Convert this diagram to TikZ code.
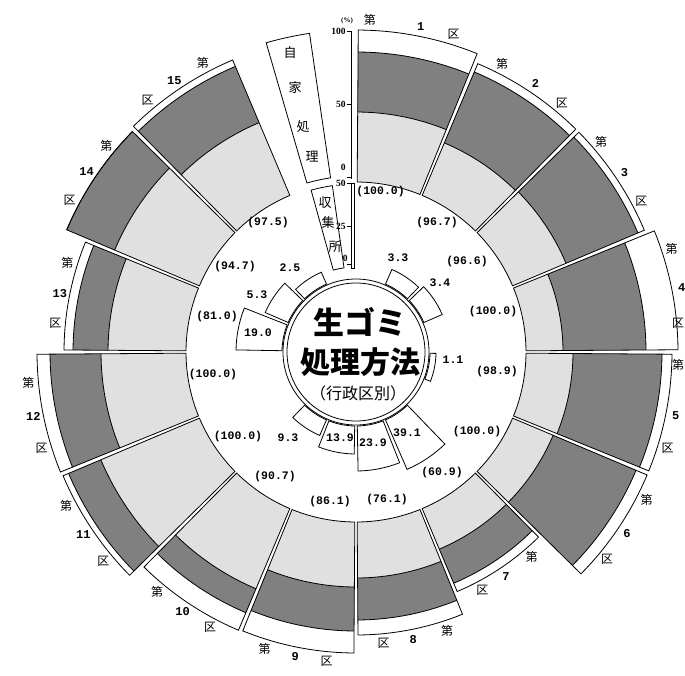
\documentclass[tikz,border=0pt]{standalone}
\usepackage{fontspec}
\setmainfont{Liberation Serif}
\setmonofont{Liberation Mono}
\newfontfamily\jp{Noto Sans CJK JP}
\begin{document}
\begin{tikzpicture}[x=1pt,y=1pt,line width=0.8pt,
  num/.style={font=\ttfamily\bfseries\fontsize{11.5}{12}\selectfont,inner sep=0pt},
  wnum/.style={font=\ttfamily\bfseries\fontsize{12}{13}\selectfont,inner sep=0pt},
  jpl/.style={font=\jp\fontsize{12}{13}\selectfont,inner sep=0pt},
  leg/.style={font=\jp\fontsize{13}{14}\selectfont,inner sep=0pt},
  tick/.style={font=\rmfamily\bfseries\fontsize{9.5}{10}\selectfont,inner sep=0pt},
  lt/.style={fill=black!12},
  dk/.style={fill=black!50},
  ]
\useasboundingbox (0,0) rectangle (685,-675);
\fill[white] (0,0) rectangle (685,-675);
\begin{scope}[shift={(356,-352)}]
\coordinate (C) at (0,0);
% ward sectors
\foreach \k/\ra/\rb/\rc in {1/240/300/322,2/227/304/313,3/228/306/313,4/207/290/322,5/217/306/316,6/214/304/316,7/214/251/260,8/226/268/283,9/235/279/301,10/257/283/302,11/277/312/318,12/255/306/319,13/248/283/292,14/262/314/314,15/249/310/317}{
  \pgfmathsetmacro\sA{90-(\k-1)*22.5-0.4}
  \pgfmathsetmacro\sB{90-\k*22.5+0.4}
  \fill[white] (\sA:170) arc[start angle=\sA,end angle=\sB,radius=170pt] -- (\sB:\rc) arc[start angle=\sB,end angle=\sA,radius=\rc pt] -- cycle;
  \fill[lt] (\sA:170) arc[start angle=\sA,end angle=\sB,radius=170pt] -- (\sB:\ra) arc[start angle=\sB,end angle=\sA,radius=\ra pt] -- cycle;
  \fill[dk] (\sA:\ra) arc[start angle=\sA,end angle=\sB,radius=\ra pt] -- (\sB:\rb) arc[start angle=\sB,end angle=\sA,radius=\rb pt] -- cycle;
  \draw (\sA:170) arc[start angle=\sA,end angle=\sB,radius=170pt] -- (\sB:\rc) arc[start angle=\sB,end angle=\sA,radius=\rc pt] -- cycle;
  \draw (\sA:\ra) arc[start angle=\sA,end angle=\sB,radius=\ra pt];
  \draw (\sA:\rb) arc[start angle=\sA,end angle=\sB,radius=\rb pt];
  \pgfmathsetmacro\lr{\rc+10}
  \pgfmathsetmacro\ma{(\sA+\sB)/2}
  \ifnum\k<9
    \pgfmathsetmacro\fa{\sA-4}\pgfmathsetmacro\la{\sB+5}
  \else
    \pgfmathsetmacro\fa{\sB+5}\pgfmathsetmacro\la{\sA-5}
  \fi
  \ifnum\k=1 \pgfmathsetmacro\fa{\sA-2}\fi
  \ifnum\k=4
    \node[jpl] (d\k) at (\fa:\lr) {第};
    \node[wnum] (n\k) at (\ma:\lr) {\k};
    \node[jpl] (q\k) at (322,29) {区};
  \else\ifnum\k=5
    \node[jpl] (d\k) at (322,-13) {第};
    \node[wnum] (n\k) at (\ma:\lr) {\k};
    \node[jpl] (q\k) at (\la:\lr) {区};
  \else
    \node[jpl] (d\k) at (\fa:\lr) {第};
    \node[wnum] (n\k) at (\ma:\lr) {\k};
    \node[jpl] (q\k) at (\la:\lr) {区};
  \fi\fi
}
% inner bars
\foreach \k/\rr in {2/90,3/94,5/80,7/128,8/119,9/102,10/91,13/120,14/99,15/87}{
  \pgfmathsetmacro\sA{90-(\k-1)*22.5-1}
  \pgfmathsetmacro\sB{90-\k*22.5+1}
  \draw[fill=white] (\sA:74) arc[start angle=\sA,end angle=\sB,radius=74pt] -- (\sB:\rr) arc[start angle=\sB,end angle=\sA,radius=\rr pt] -- cycle;
}
% centre circles
\draw (C) circle[radius=69pt];
\draw (C) circle[radius=73pt];
\node[font=\jp\bfseries\fontsize{31}{31}\selectfont,inner sep=0pt] (t1) at (4,30) {生ゴミ};
\node[font=\jp\bfseries\fontsize{30}{30}\selectfont,inner sep=0pt] (t2) at (4,-10) {処理方法};
\node[font=\jp\fontsize{16}{16}\selectfont,inner sep=0pt] (t3) at (2,-41) {（行政区別）};
% legend boxes
\draw[fill=white] (106.2:176) arc[start angle=106.2,end angle=98.3,radius=176pt] -- (98.3:322) arc[start angle=98.3,end angle=106.2,radius=322pt] -- cycle;
\draw[fill=white] (105.5:85) arc[start angle=105.5,end angle=98.1,radius=85pt] -- (98.1:168) arc[start angle=98.1,end angle=105.5,radius=168pt] -- cycle;
\node[leg] (g1) at (-66,299) {自};
\node[leg] (g2) at (-61,264) {家};
\node[leg] (g3) at (-53,225) {処};
\node[leg] (g4) at (-44,195) {理};
\node[leg] (h1) at (-31,149) {収};
\node[leg] (h2) at (-28,129) {集};
\node[leg] (h3) at (-21,105) {所};
% axes
\draw[line width=0.7pt] (-5,321) -- (-5,173);
\draw[line width=0.7pt] (-9.5,321) -- (-5,321) (-9.5,248) -- (-5,248) (-9.5,175) -- (-5,175);
\node[tick,anchor=east] (x100) at (-10,321) {100};
\node[tick,anchor=east] (x50) at (-10,248) {50};
\node[tick,anchor=east] (x0) at (-10,185) {0};
\node[tick,font=\rmfamily\bfseries\fontsize{7}{8}\selectfont] (pc) at (-9,331) {(\%)};
\draw[line width=0.7pt] (-5,169) rectangle (-1.5,84);
\draw[line width=0.7pt] (-9.5,169) -- (-5,169) (-9.5,126) -- (-5,126) (-9.5,88) -- (-5,88);
\node[tick,anchor=east] (y50) at (-10,169) {50};
\node[tick,anchor=east] (y25) at (-10,126) {25};
\node[tick,anchor=east] (y0) at (-8,94) {0};
% percentage labels
\node[num,anchor=west] (p1) at (0,160) {(100.0)};
\node[num] (p2) at (81,129) {(96.7)};
\node[num] (p3) at (111,90) {(96.6)};
\node[num] (p4) at (137,40) {(100.0)};
\node[num] (p5) at (141,-20) {(98.9)};
\node[num] (p6) at (121,-80) {(100.0)};
\node[num] (p7) at (86,-121) {(60.9)};
\node[num] (p8) at (31,-148) {(76.1)};
\node[num] (p9) at (-26,-150) {(86.1)};
\node[num] (p10) at (-81,-125) {(90.7)};
\node[num] (p11) at (-118,-85) {(100.0)};
\node[num] (p12) at (-143,-23) {(100.0)};
\node[num] (p13) at (-139,35) {(81.0)};
\node[num] (p14) at (-121,85) {(94.7)};
\node[num] (p15) at (-88,129) {(97.5)};
% bar labels
\node[num] (b2) at (42,94) {3.3};
\node[num] (b3) at (84,69) {3.4};
\node[num] (b5) at (97,-8) {1.1};
\node[num] (b7) at (51,-81) {39.1};
\node[num] (b8) at (17,-91) {23.9};
\node[num] (b9) at (-16,-86) {13.9};
\node[num] (b10) at (-68,-86) {9.3};
\node[num] (b13) at (-98,19) {19.0};
\node[num] (b14) at (-99,57) {5.3};
\node[num] (b15) at (-66,84) {2.5};
\end{scope}
\end{tikzpicture}
\end{document}
